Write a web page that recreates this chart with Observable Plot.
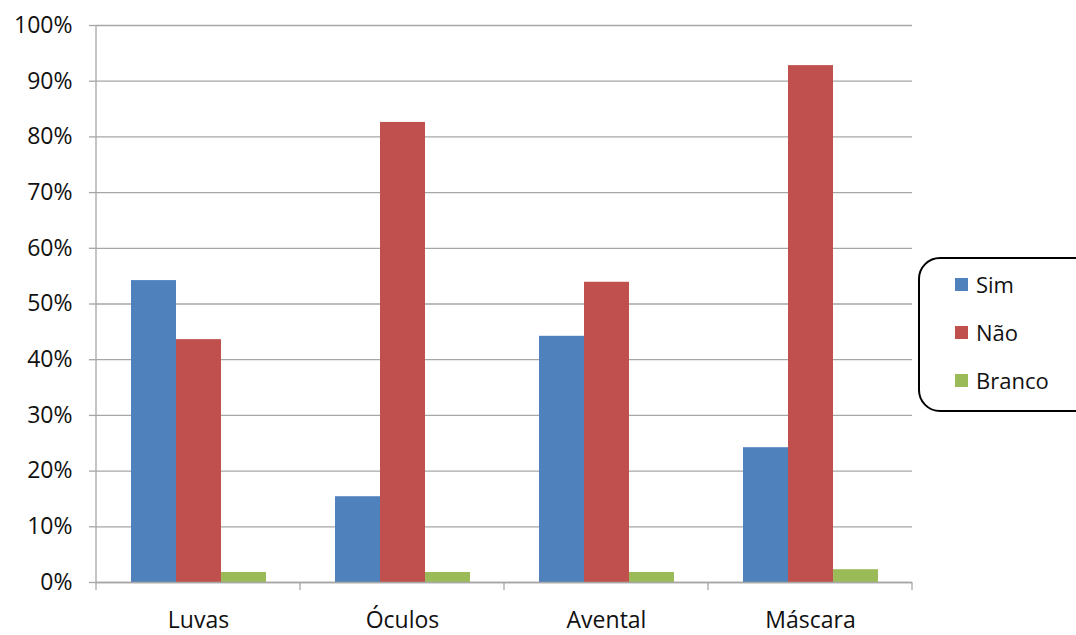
<!DOCTYPE html>
<html>
<head>
<meta charset="utf-8">
<script src="https://cdn.jsdelivr.net/npm/d3@7"></script>
<script src="https://cdn.jsdelivr.net/npm/@observablehq/plot@0.6"></script>
<style>
  html, body { margin: 0; padding: 0; background: #fff; }
  #chart { position: relative; width: 1076px; height: 635px; overflow: hidden; font-family: "Open Sans", sans-serif; }
  .legend { position: absolute; left: 918px; top: 257px; width: 180px; height: 155px;
            border: 2px solid #000; border-radius: 22px; box-sizing: border-box; background: #fff; }
  .legend .item { position: absolute; left: 35px; display: flex; align-items: center; font-size: 22px; color: #111; }
  .legend .sw { width: 13px; height: 13px; margin-right: 8px; }
</style>
</head>
<body>
<div id="chart"></div>
<script>
// Equipment categories and the share of answers for each option
const categories = ["Luvas", "Óculos", "Avental", "Máscara"];
const series = ["Sim", "Não", "Branco"];
const colors = ["#4F81BD", "#C0504D", "#9BBB59"];
const sim    = [0.542, 0.154, 0.442, 0.242];
const nao    = [0.436, 0.826, 0.539, 0.928];
const branco = [0.018, 0.018, 0.018, 0.023];
const yTicks = [0, 0.1, 0.2, 0.3, 0.4, 0.5, 0.6, 0.7, 0.8, 0.9, 1];

const values = [sim, nao, branco];
const rows = categories.flatMap((c, i) =>
  series.map((s, j) => ({category: c, series: s, value: values[j][i]})));

const grid = "#a6a6a6";
const plot = Plot.plot({
  width: 1076,
  height: 635,
  marginLeft: 95,
  marginRight: 164,
  marginTop: 25,
  marginBottom: 53,
  style: {fontFamily: "Open Sans, sans-serif", fontSize: "23px", color: "#111", background: "#fff"},
  fx: {domain: categories, padding: 0, label: null},
  x: {domain: series, paddingInner: 0, paddingOuter: 0.737, axis: null},
  y: {domain: [0, 1], label: null},
  color: {domain: series, range: colors},
  marks: [
    Plot.gridY(yTicks, {stroke: grid, strokeOpacity: 1, strokeWidth: 1.3}),
    Plot.barY(rows, {fx: "category", x: "series", y: "value", fill: "series", inset: 0}),
    Plot.ruleY([0], {stroke: grid, strokeWidth: 1.3}),
    Plot.axisY(yTicks, {tickFormat: d3.format(".0%"), tickSize: 7, tickPadding: 17,
                        stroke: grid, strokeWidth: 1.3, fontSize: 23, label: null}),
    Plot.axisFx({anchor: "bottom", tickSize: 0, tickPadding: 29, fontSize: 23, label: null})
  ]
});

// Left axis line and category boundary ticks, placed with the fx scale
const fx = plot.scale("fx");
const y = plot.scale("y");
const svg = d3.select(plot);
const y0 = y.apply(0), y1 = y.apply(1);
const x0 = fx.apply(categories[0]);
const bounds = categories.map(c => fx.apply(c)).concat([fx.apply(categories[categories.length - 1]) + fx.bandwidth]);
const deco = svg.append("g").attr("stroke", grid).attr("stroke-width", 1.3);
deco.append("line").attr("x1", x0).attr("x2", x0).attr("y1", y1).attr("y2", y0);
deco.selectAll(".bt").data(bounds).join("line")
  .attr("x1", d => d).attr("x2", d => d).attr("y1", y0).attr("y2", y0 + 8);

const chart = document.getElementById("chart");
chart.appendChild(plot);

// Legend box on the right
const legend = document.createElement("div");
legend.className = "legend";
series.forEach((s, i) => {
  const item = document.createElement("div");
  item.className = "item";
  item.style.top = (10 + i * 48) + "px";
  item.innerHTML = `<span class="sw" style="background:${colors[i]}"></span><span>${s}</span>`;
  legend.appendChild(item);
});
chart.appendChild(legend);
</script>
</body>
</html>
